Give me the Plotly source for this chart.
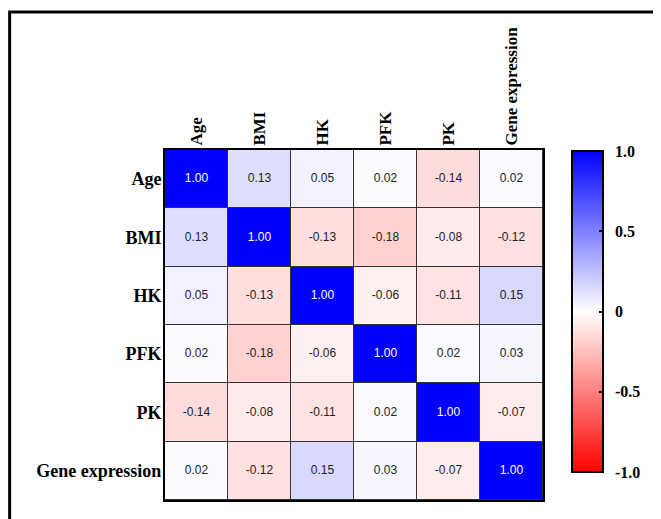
import plotly.graph_objects as go

variables = ["Age", "BMI", "HK", "PFK", "PK", "Gene expression"]
row_age = [1.00, 0.13, 0.05, 0.02, -0.14, 0.02]
row_bmi = [0.13, 1.00, -0.13, -0.18, -0.08, -0.12]
row_hk = [0.05, -0.13, 1.00, -0.06, -0.11, 0.15]
row_pfk = [0.02, -0.18, -0.06, 1.00, 0.02, 0.03]
row_pk = [-0.14, -0.08, -0.11, 0.02, 1.00, -0.07]
row_gene = [0.02, -0.12, 0.15, 0.03, -0.07, 1.00]
z = [row_age, row_bmi, row_hk, row_pfk, row_pk, row_gene]

cbar_vals = [1.0, 0.5, 0, -0.5, -1.0]
cbar_text = ["1.0", "0.5", "0", "-0.5", "-1.0"]

xfont = dict(family="Liberation Serif", size=17, color="black")
yfont = dict(family="Liberation Serif", size=18, color="black")
cbar_font = dict(family="Liberation Serif", size=16, color="black")
bold_labels = ["<b>" + v + "</b>" for v in variables]
bold_cbar = ["\u00a0\u2009<b>" + t + "</b>" for t in cbar_text]

fig = go.Figure(
    go.Heatmap(
        z=z, x=variables, y=variables,
        zmin=-1, zmax=1,
        colorscale=[[0, "#ff0000"], [0.5, "#ffffff"], [1, "#0000ff"]],
        xgap=1, ygap=1,
        colorbar=dict(
            tickvals=cbar_vals, ticktext=bold_cbar,
            tickfont=cbar_font,
            ticks="inside", ticklen=5, tickcolor="black", tickwidth=2,
            outlinewidth=2, outlinecolor="black",
            thickness=31, thicknessmode="pixels",
            len=321, lenmode="pixels",
            x=1.077, xanchor="left", xpad=0,
            y=0.997, yanchor="top", ypad=0,
        ),
        hoverongaps=False,
    )
)

# cell value labels
tx, ty, tt, tc = [], [], [], []
for i, rname in enumerate(variables):
    for j, cname in enumerate(variables):
        v = z[i][j]
        tx.append(cname)
        ty.append(rname)
        tt.append(f"{v:.2f}")
        tc.append("white" if abs(v) > 0.5 else "#222222")
fig.add_trace(go.Scatter(x=tx, y=ty, text=tt, mode="text",
                         textfont=dict(family="Liberation Sans", size=12, color=tc),
                         showlegend=False, hoverinfo="skip"))

fig.update_layout(
    width=653, height=511,
    margin=dict(l=157, r=118, t=142, b=19),
    paper_bgcolor="white",
    plot_bgcolor="#333333",
    showlegend=False,
    xaxis=dict(side="top", tickangle=-90, tickfont=xfont, showgrid=False,
               tickmode="array", tickvals=variables, ticktext=bold_labels,
               ticklabelstandoff=-1,
               zeroline=False, showline=True, linecolor="black", linewidth=2, mirror=True,
               ticks=""),
    yaxis=dict(autorange="reversed", tickfont=yfont, showgrid=False,
               tickmode="array", tickvals=variables, ticktext=bold_labels,
               ticklabelstandoff=-2,
               zeroline=False, showline=True, linecolor="black", linewidth=2, mirror=True,
               ticks=""),
    shapes=[dict(type="rect", xref="paper", yref="paper",
                 x0=-0.411, x1=1.35, y0=-0.2, y1=1.394,
                 line=dict(color="black", width=3), fillcolor="rgba(0,0,0,0)", layer="below")],
)

fig.write_html("out.html")
